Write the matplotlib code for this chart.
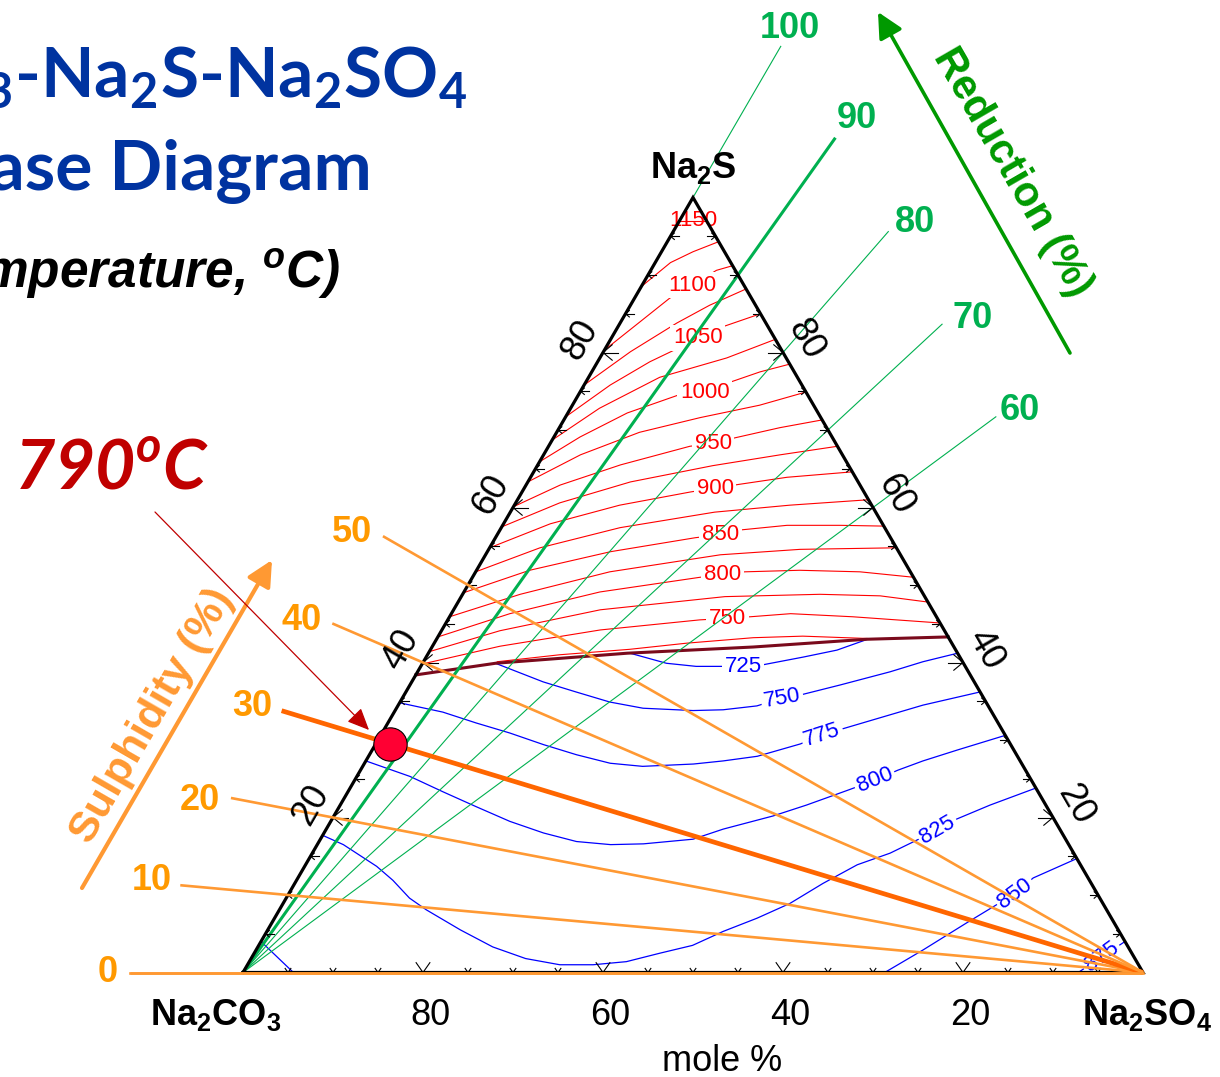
import numpy as np
import matplotlib
matplotlib.use("Agg")
import matplotlib.pyplot as plt

# isotherms, points are (Na2SO4 mol %, Na2S mol %)
upper_levels = [1150, 1125, 1100, 1075, 1050, 1025, 1000, 975, 950, 925,
                900, 875, 850, 825, 800, 775, 750, 725]
upper_curves = [
    [(0, 97.0), (1.5, 97.0), (3.0, 97.0)],
    [(0, 88.5), (1.7, 91.6), (3.5, 93.0), (5.7, 94.3)],
    [(0, 80.3), (2.1, 83.9), (3.9, 87.0), (5.6, 88.7), (7.3, 90.6), (8.8, 91.2)],
    [(0, 75.8), (3.0, 80.1), (6.3, 83.8), (8.8, 86.1), (11.8, 88.2)],
    [(0, 71.7), (2.9, 75.8), (5.8, 78.8), (8.0, 80.5), (9.6, 81.9), (11.6, 83.3), (15.0, 85.0)],
    [(0, 68.7), (3.2, 72.8), (7.9, 76.8), (14.1, 79.3), (18.3, 81.7)],
    [(0, 65.9), (2.9, 69.1), (6.6, 72.2), (11.1, 74.5), (13.9, 74.8), (15.9, 76.1),
     (18.7, 77.5), (21.5, 78.5)],
    [(0, 63.3), (4.1, 66.8), (9.2, 69.7), (15.0, 71.6), (20.8, 73.2), (25.1, 74.9)],
    [(0, 60.1), (3.8, 62.9), (9.2, 65.5), (15.7, 67.9), (18.1, 68.3), (20.2, 69.0),
     (24.5, 70.3), (28.7, 71.3)],
    [(0, 57.5), (4.9, 60.6), (11.4, 63.3), (19.5, 65.4), (26.3, 66.8), (32.1, 67.9)],
    [(0, 54.8), (5.2, 57.9), (11.7, 60.3), (18.7, 62.0), (21.2, 62.5), (23.7, 63.0),
     (28.5, 63.9), (35.4, 64.6)],
    [(0, 51.7), (5.6, 54.8), (13.2, 57.4), (22.7, 59.4), (30.6, 60.3), (39.0, 61.0)],
    [(0, 49.0), (5.9, 51.9), (13.7, 54.3), (22.2, 56.1), (24.8, 56.5), (26.7, 57.1),
     (31.6, 57.7), (37.5, 57.7), (42.4, 57.6)],
    [(0, 45.9), (6.4, 48.8), (14.9, 51.7), (26.1, 53.9), (34.6, 54.6), (45.2, 54.8)],
    [(0, 43.3), (6.5, 46.3), (15.1, 49.1), (25.3, 51.0), (27.6, 51.4), (29.9, 51.7),
     (35.9, 51.9), (42.7, 51.7), (49.0, 51.0)],
    [(0, 41.4), (6.5, 44.1), (16.3, 46.8), (29.3, 48.5), (39.7, 48.8), (46.5, 48.6), (52.2, 47.8)],
    [(0, 39.8), (7.5, 42.1), (17.6, 44.2), (28.0, 45.5), (31.0, 45.7), (33.4, 45.9),
     (37.7, 46.3), (44.8, 45.9), (54.9, 45.1)],
    [(8.2, 40.1), (14.7, 41.0), (22.1, 41.7), (28.1, 42.5), (35.1, 43.2), (40.5, 43.4), (47.8, 43.1)],
]

lower_levels = [725, 750, 775, 800, 825, 850, 875, 850]
lower_curves = [
    [(22.4, 41.2), (27.1, 39.9), (30.6, 39.5), (35.8, 39.5), (37.9, 39.7), (41.9, 40.7),
     (45.2, 41.6), (47.9, 43.0)],
    [(8.1, 39.9), (14.6, 37.5), (18.9, 36.2), (23.3, 34.9), (27.4, 34.1), (33.1, 33.8),
     (36.4, 33.9), (39.9, 34.4), (42.2, 35.4), (44.0, 35.8), (47.8, 37.1), (52.5, 38.8),
     (55.5, 40.1), (58.8, 41.2)],
    [(0, 34.8), (5.4, 33.6), (9.8, 32.2), (14.2, 30.9), (18.7, 29.4), (23.0, 28.1),
     (27.3, 27.0), (31.1, 26.6), (36.6, 26.9), (39.7, 27.3), (43.2, 27.9), (47.2, 29.5),
     (49.0, 30.7), (50.8, 31.4), (53.7, 32.6), (58.3, 34.5), (63.8, 36.2)],
    [(0, 27.3), (5.9, 25.3), (10.6, 23.3), (15.2, 21.4), (19.9, 19.5), (24.4, 18.0),
     (28.6, 16.9), (32.6, 16.5), (36.2, 16.6), (41.4, 17.2), (44.1, 18.5), (48.8, 20.2),
     (51.8, 21.6), (55.4, 23.5), (57.8, 24.8), (59.7, 26.1), (61.9, 27.3), (65.0, 28.7),
     (69.4, 30.6)],
    [(0, 17.7), (2.9, 16.5), (8.0, 13.7), (10.7, 11.9), (13.7, 9.6), (16.3, 8.1),
     (21.4, 5.5), (26.1, 3.3), (30.5, 1.8), (34.7, 1.0), (38.4, 1.0), (41.9, 1.4),
     (45.1, 2.5), (48.2, 3.5), (50.7, 5.3), (53.6, 7.0), (56.3, 8.9), (58.7, 11.5),
     (61.3, 13.9), (64.2, 15.4), (68.0, 18.4), (69.4, 19.8), (72.2, 21.6), (76.2, 23.8)],
    [(71.3, 0), (74.1, 2.9), (77.2, 6.4), (80.7, 10.2), (81.7, 12.2), (85.3, 14.7)],
    [(92.8, 0), (94.4, 2.0), (96.0, 4.0)],
    [(0, 4.0), (5.6, 0)],
]

# liquid / solid boundary (dark red line)
boundary = [(0, 38.4), (8.1, 39.9), (22.1, 41.2), (35.7, 42.0), (47.8, 43.0), (56.7, 43.3)]

reduction_pct = [100, 90, 80, 70, 60]
sulphidity_pct = [0, 10, 20, 30, 40, 50]
edge_ticks = [20, 40, 60, 80]
point_reduction = 95
point_sulphidity = 30

# pixel frame of the triangle
X0, Y0, W, H = 243, 972.5, 900, 775


def tern(so4, s):
    b = np.asarray(so4, float) / 100
    c = np.asarray(s, float) / 100
    return b + c / 2, c


def P(px, py):
    return (px - X0) / W, (Y0 - py) / H


def to_px(x, y):
    return X0 + W * x, Y0 - H * y


fig = plt.figure(figsize=(12.2, 10.77), dpi=100)
ax = fig.add_axes([0, 0, 1, 1])
ax.set_xlim(P(0, 0)[0], P(1220, 0)[0])
ax.set_ylim(P(0, 1077)[1], P(0, 0)[1])
ax.axis("off")

ARIAL = ["Liberation Sans", "DejaVu Sans"]

# isotherms
for lev, pts in zip(upper_levels, upper_curves):
    so4, s = zip(*pts)
    ax.plot(*tern(so4, s), color="#FF0000", lw=0.8, zorder=2)
for lev, pts in zip(lower_levels, lower_curves):
    so4, s = zip(*pts)
    ax.plot(*tern(so4, s), color="#0000FF", lw=0.9, zorder=2)
so4, s = zip(*boundary)
ax.plot(*tern(so4, s), color="#7A0A1C", lw=2.2, zorder=2.5)

# contour labels: (curve index, point index, rotation)
upper_lab = [(0, 1, 0), (2, 3, 0), (4, 4, 0), (6, 4, 0), (8, 4, 0), (10, 4, 0),
             (12, 4, 0), (14, 4, 0), (16, 4, 0)]
lower_lab = [(0, 3, 0), (1, 8, 10), (2, 12, 18), (3, 14, 22), (4, 20, 30),
             (5, 3, 36), (6, 1, 36)]
for levels, curves, labs, col in ((upper_levels, upper_curves, upper_lab, "#FF0000"),
                                  (lower_levels, lower_curves, lower_lab, "#0000FF")):
    for ci, pi, rot in labs:
        x, y = tern(*curves[ci][pi])
        box = None if levels[ci] == 1150 else dict(boxstyle="square,pad=0.12", fc="white", ec="none")
        ax.text(x, y, str(levels[ci]), color=col, fontsize=16, family=ARIAL,
                ha="center", va="center", rotation=rot, rotation_mode="anchor",
                bbox=box, zorder=3)

# reduction lines from the Na2CO3 corner
for r in reduction_pct:
    ex, ey = tern(100 - r, r)
    t = 1.195
    ax.plot([0, t * ex], [0, t * ey], color="#00B050",
            lw=2.2 if r == 90 else 0.8, zorder=4)

# sulphidity lines from the Na2SO4 corner
bx, by = tern(100, 0)
for sp in sulphidity_pct:
    ex, ey = tern(0, sp)
    t = 1.126
    ax.plot([bx, bx + t * (ex - bx)], [by, by + t * (ey - by)],
            color="#FF6600" if sp == 30 else "#FF9933",
            lw=3.4 if sp == 30 else 1.9, zorder=6, solid_capstyle="butt")

# triangle edges
ax.plot(*tern([0, 100, 0, 0], [0, 0, 100, 0]), color="black", lw=2.3,
        zorder=5, solid_joinstyle="miter")
# orange zero line sits on the base
ex, ey = tern(0, 0)
ax.plot([bx, bx + 1.126 * (ex - bx)], [by, by], color="#FF9933", lw=1.9, zorder=6)

# arrow shaped ticks on the three edges
for k in range(5, 100, 5):
    big = k in edge_ticks
    arm = 12 if big else 5
    for (so4v, sv), (dx, dy), stem in (((k, 0), (0, -1), 0),
                                        ((0, k), (1, 0), arm + 3),
                                        ((100 - k, k), (-1, 0), arm + 3)):
        ex, ey = to_px(*tern(so4v, sv))
        ang = np.radians(35 if dy else 40)
        pts = []
        for sgn in (-1, 1):
            ca, sa = np.cos(sgn * ang), np.sin(sgn * ang)
            pts.append((ex + arm * (dx * ca - dy * sa), ey + arm * (dx * sa + dy * ca)))
        xs = [P(*pts[0])[0], P(ex, ey)[0], P(*pts[1])[0]]
        ys = [P(*pts[0])[1], P(ex, ey)[1], P(*pts[1])[1]]
        ax.plot(xs, ys, color="black", lw=0.8, zorder=5)
        if stem:
            x1, y1 = P(ex, ey)
            x2, y2 = P(ex + stem * dx, ey + stem * dy)
            ax.plot([x1, x2], [y1, y2], color="black", lw=0.8, zorder=5)

# edge numbers
nl, nr = np.array([-0.865, -0.502]), np.array([0.865, -0.502])
for k in edge_ticks:
    ex, ey = to_px(*tern(k, 0))
    ax.text(*P(ex + 7, 1025), str(100 - k), fontsize=26, family=ARIAL,
            ha="center", va="baseline", zorder=7)
    ex, ey = to_px(*tern(0, k))
    ax.text(*P(ex + 26 * nl[0], ey + 26 * nl[1]), str(k), fontsize=26, family=ARIAL,
            rotation=60, ha="center", va="center", rotation_mode="anchor", zorder=7)
    ex, ey = to_px(*tern(100 - k, k))
    ax.text(*P(ex + 26 * nr[0], ey + 26 * nr[1]), str(k), fontsize=26, family=ARIAL,
            rotation=-60, ha="center", va="center", rotation_mode="anchor", zorder=7)

lab_kw = dict(fontsize=26, family=ARIAL, weight="bold", va="baseline", zorder=7)
ax.text(*P(693, 178), r"Na$_{\mathdefault{2}}$S", ha="center", **lab_kw)
ax.text(*P(216, 1025), r"Na$_{\mathdefault{2}}$CO$_{\mathdefault{3}}$", ha="center", **lab_kw)
ax.text(*P(1147, 1025), r"Na$_{\mathdefault{2}}$SO$_{\mathdefault{4}}$", ha="center", **lab_kw)
ax.text(*P(722, 1071), "mole %", fontsize=26, family=ARIAL, ha="center", va="baseline")

# green and orange scale numbers
green_lab_px = [(790, 28), (857, 118), (915, 222), (973, 318), (1020, 410)]
for r, (gx, gy) in zip(reduction_pct, green_lab_px):
    ax.text(*P(gx, gy), str(r), color="#00B050", fontsize=26, family=ARIAL,
            weight="bold", ha="center", va="center")
orange_lab_px = [(108, 972), (152, 880), (200, 800), (252, 707), (302, 620), (352, 532)]
for sp, (ox, oy) in zip(sulphidity_pct, orange_lab_px):
    ax.text(*P(ox, oy), str(sp), color="#FF9900", fontsize=26, family=ARIAL,
            weight="bold", ha="center", va="center")

# axis arrows and captions
ax.annotate("", xy=P(272, 560), xytext=P(82, 888),
            arrowprops=dict(arrowstyle="-|>,head_length=0.7,head_width=0.35",
                            color="#FF9933", lw=3, mutation_scale=22, shrinkA=0, shrinkB=0))
ax.text(*P(152, 716), "Sulphidity (%)", color="#FF9933", fontsize=31, family=ARIAL,
        weight="bold", rotation=60, ha="center", va="center", rotation_mode="anchor")
ax.annotate("", xy=P(878, 12), xytext=P(1070, 353),
            arrowprops=dict(arrowstyle="-|>,head_length=0.7,head_width=0.35",
                            color="#009900", lw=2.6, mutation_scale=22, shrinkA=0, shrinkB=0))
ax.text(*P(1012, 172), "Reduction (%)", color="#009900", fontsize=30, family=ARIAL,
        weight="bold", rotation=-60, ha="center", va="center", rotation_mode="anchor")

# operating point
s_frac = 1 / (1 + (100 - point_reduction) / point_reduction
              + (100 - point_sulphidity) / point_sulphidity)
so4_pt = s_frac * (100 - point_reduction) / point_reduction
ax.plot(*tern(100 * so4_pt, 100 * s_frac), "o", ms=24, mfc="#FF0033", mec="black",
        mew=0.8, zorder=9)
ax.annotate("", xy=P(369, 730), xytext=P(155, 512),
            arrowprops=dict(arrowstyle="-|>,head_length=0.9,head_width=0.4",
                            color="#C00000", lw=0.9, mutation_scale=15, shrinkA=0, shrinkB=0),
            zorder=8)
ax.text(*P(14, 490), r"790$^{\mathdefault{o}}$C", color="#C00000", fontsize=50,
        family=["Lato", "DejaVu Sans"], weight="bold", style="italic",
        ha="left", va="baseline")

# title, cropped on the left like the slide
title_kw = dict(family=["Lato", "DejaVu Sans"], weight="bold", color="#0033A0",
                fontsize=50, ha="right", va="baseline")
ax.text(*P(468, 97), r"Na$_{\mathdefault{2}}$CO$_{\mathdefault{3}}$-Na$_{\mathdefault{2}}$S-"
        r"Na$_{\mathdefault{2}}$SO$_{\mathdefault{4}}$", **title_kw)
ax.text(*P(372, 190), "Phase Diagram", **title_kw)
ax.text(*P(340, 288), r"(Temperature, $^{\mathdefault{o}}$C)", family=ARIAL, weight="bold",
        style="italic", fontsize=37, ha="right", va="baseline")

fig.savefig("out.png", dpi=100)
